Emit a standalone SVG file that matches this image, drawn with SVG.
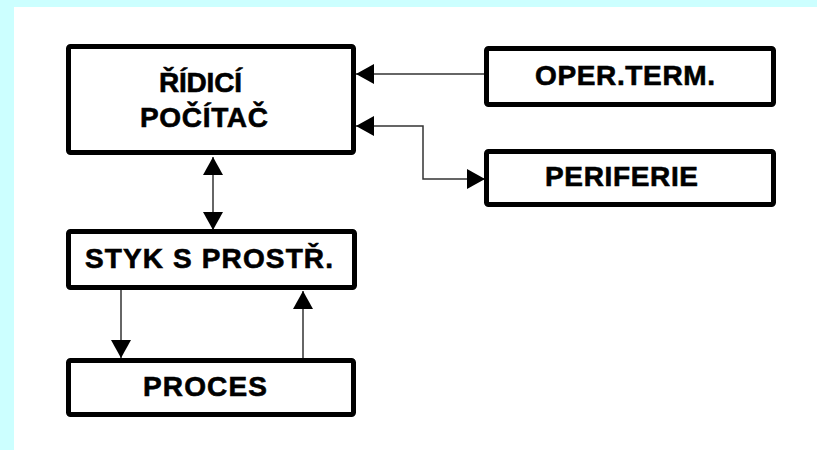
<svg xmlns="http://www.w3.org/2000/svg" width="817" height="450" viewBox="0 0 817 450">
<defs>
<style>
.box{fill:#fff;stroke:#000;stroke-width:5}
.lbl{font-family:"Liberation Sans",Arial,sans-serif;font-weight:bold;font-size:28px;fill:#000;stroke:#000;stroke-width:0.6}
.con{fill:none;stroke:#333;stroke-width:1.5}
</style>
<marker id="ah" viewBox="0 0 18 20" refX="18" refY="10" markerWidth="18" markerHeight="20" markerUnits="userSpaceOnUse" orient="auto-start-reverse">
<path d="M0,0 L18,10 L0,20 z" fill="#000"/>
</marker>
</defs>
<rect x="0" y="0" width="817" height="450" fill="#fff"/>
<rect x="0" y="0" width="817" height="7" fill="#ccffff"/>
<rect x="0" y="0" width="14" height="450" fill="#ccffff"/>
<g id="connectors">
<path class="con" d="M486,74 H356" marker-end="url(#ah)"/>
<path class="con" d="M356,126 H423 V179 H485" marker-start="url(#ah)" marker-end="url(#ah)"/>
<path class="con" d="M213,157 V230" marker-start="url(#ah)" marker-end="url(#ah)"/>
<path class="con" d="M121,290 V358" marker-end="url(#ah)"/>
<path class="con" d="M303,364 V291" marker-end="url(#ah)"/>
</g>
<g id="ridici">
<rect class="box" x="68.5" y="46.5" width="285" height="106" rx="2"/>
<text class="lbl" x="159" y="92" textLength="83" lengthAdjust="spacing">ŘÍDICÍ</text>
<text class="lbl" x="140" y="127" textLength="128" lengthAdjust="spacing">POČÍTAČ</text>
</g>
<g id="oper">
<rect class="box" x="486.5" y="48.5" width="287" height="56" rx="2"/>
<text class="lbl" x="535" y="85" textLength="180" lengthAdjust="spacing">OPER.TERM.</text>
</g>
<g id="periferie">
<rect class="box" x="486.5" y="151.5" width="287" height="53" rx="2"/>
<text class="lbl" x="545" y="186" textLength="153" lengthAdjust="spacing">PERIFERIE</text>
</g>
<g id="styk">
<rect class="box" x="68.5" y="231.5" width="286" height="56" rx="2"/>
<text class="lbl" x="85" y="268" textLength="248" lengthAdjust="spacing">STYK S PROSTŘ.</text>
</g>
<g id="proces">
<rect class="box" x="68.5" y="360.5" width="285" height="54" rx="2"/>
<text class="lbl" x="143" y="396" textLength="124" lengthAdjust="spacing">PROCES</text>
</g>
</svg>
